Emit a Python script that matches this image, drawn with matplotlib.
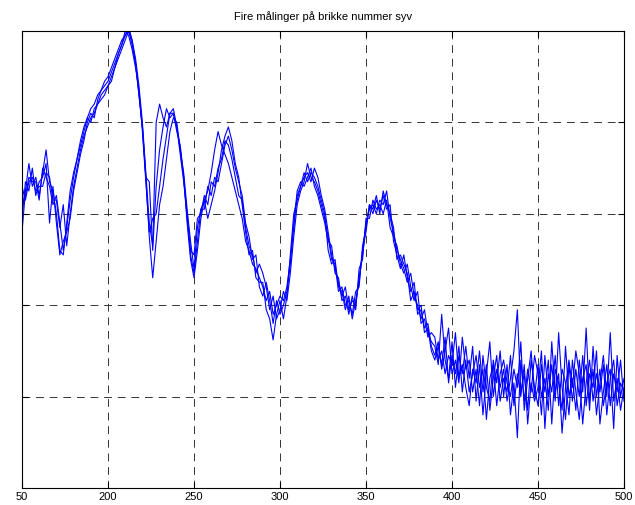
import numpy as np
import matplotlib
matplotlib.use("Agg")
import matplotlib.pyplot as plt

# wavelength axis, every 2 units from 150 to 500
x = np.arange(150, 501, 2)

maaling_a = [
    2.80, 3.25, 3.55, 3.30, 3.40, 3.20, 3.45, 3.70, 3.35, 3.25,
    3.00, 2.60, 2.55, 2.90, 3.25, 3.45, 3.60, 3.80, 3.95, 4.05,
    4.15, 4.20, 4.30, 4.35, 4.45, 4.50, 4.60, 4.70, 4.80, 4.90,
    4.95, 5.05, 4.90, 4.70, 4.40, 4.00, 3.45, 2.90, 2.65, 4.00,
    4.20, 4.05, 3.95, 4.10, 4.10, 3.95, 3.70, 3.45, 3.05, 2.70,
    2.40, 2.85, 3.05, 3.15, 3.25, 3.45, 3.70, 3.90, 3.75, 3.65,
    3.55, 3.40, 3.25, 3.10, 2.95, 2.70, 2.60, 2.45, 2.40, 2.30,
    2.20, 2.05, 2.15, 1.90, 2.00, 2.10, 2.05, 2.20, 2.50, 2.85,
    3.20, 3.30, 3.40, 3.45, 3.35, 3.50, 3.40, 3.20, 3.05, 2.80,
    2.55, 2.40, 2.25, 2.10, 2.20, 1.95, 2.05, 2.00, 2.30, 2.55,
    2.90, 3.05, 3.10, 3.00, 3.15, 3.10, 3.25, 2.95, 2.80, 2.60,
    2.50, 2.40, 2.25, 2.35, 2.10, 2.00, 1.85, 1.95, 1.70, 1.60,
    1.55, 1.35, 1.90, 1.40, 1.20, 1.60, 1.10, 1.45, 1.25, 1.55,
    1.20, 1.55, 0.95, 1.35, 0.80, 1.25, 1.60, 1.00, 1.30, 1.10,
    1.30, 0.95, 1.20, 1.50, 1.95, 1.05, 1.25, 0.85, 1.40, 1.10,
    0.90, 1.35, 1.05, 1.40, 0.70, 1.30, 1.15, 0.85, 1.55, 1.00,
    1.20, 0.85, 1.40, 1.05, 1.75, 0.95, 1.30, 0.80, 1.15, 1.45,
    1.00, 1.70, 0.95, 1.20, 0.85, 1.10,
]
maaling_b = [
    3.30, 3.15, 3.35, 3.40, 3.25, 3.30, 3.30, 3.45, 3.40, 3.15,
    3.15, 2.85, 3.10, 2.65, 3.00, 3.30, 3.50, 3.70, 3.85, 3.95,
    4.05, 4.10, 4.20, 4.25, 4.30, 4.40, 4.50, 4.60, 4.70, 4.80,
    4.90, 5.00, 4.85, 4.65, 4.30, 3.95, 3.40, 3.35, 2.60, 3.30,
    3.70, 3.95, 4.15, 4.05, 4.10, 3.90, 3.75, 3.40, 2.95, 2.60,
    2.55, 2.95, 3.00, 3.20, 3.10, 3.35, 3.30, 3.50, 3.60, 3.80,
    3.75, 3.60, 3.40, 3.20, 3.15, 2.85, 2.65, 2.55, 2.35, 2.45,
    2.35, 2.20, 1.95, 2.10, 1.85, 1.95, 2.15, 2.05, 2.35, 2.75,
    3.10, 3.25, 3.35, 3.55, 3.40, 3.35, 3.25, 3.10, 2.95, 2.75,
    2.50, 2.45, 2.15, 2.20, 2.00, 2.05, 1.90, 2.15, 2.20, 2.65,
    2.85, 3.10, 3.00, 3.15, 3.05, 3.20, 3.05, 3.10, 2.70, 2.55,
    2.40, 2.55, 2.30, 2.15, 2.25, 1.90, 1.95, 1.75, 1.80, 1.55,
    1.45, 1.60, 1.30, 1.50, 1.75, 1.25, 1.40, 1.15, 1.65, 1.30,
    1.40, 1.05, 1.30, 0.90, 1.45, 1.10, 0.95, 1.40, 1.15, 1.50,
    1.00, 1.35, 0.80, 1.15, 0.55, 1.40, 0.95, 1.30, 1.05, 1.45,
    1.25, 0.80, 1.45, 1.00, 1.35, 0.95, 1.70, 1.10, 0.75, 1.35,
    0.95, 1.30, 1.00, 1.45, 0.90, 1.25, 1.10, 1.50, 0.70, 1.05,
    1.35, 0.90, 1.25, 1.05, 1.40, 0.95,
]
maaling_c = [
    2.95, 3.35, 3.25, 3.50, 3.20, 3.35, 3.40, 3.55, 2.90, 3.30,
    2.90, 2.55, 2.70, 2.80, 2.95, 3.25, 3.45, 3.65, 3.80, 4.00,
    4.10, 4.05, 4.25, 4.35, 4.40, 4.45, 4.55, 4.65, 4.75, 4.85,
    5.00, 4.95, 4.80, 4.60, 4.35, 3.90, 3.35, 2.80, 2.95, 3.00,
    3.30, 3.60, 3.85, 4.10, 4.15, 3.95, 3.65, 3.35, 3.00, 2.55,
    2.35, 2.70, 3.05, 3.05, 3.30, 3.20, 3.40, 3.35, 3.55, 3.75,
    3.85, 3.70, 3.50, 3.35, 3.20, 2.90, 2.75, 2.50, 2.55, 2.20,
    2.10, 2.25, 2.05, 1.80, 2.05, 1.90, 2.00, 2.15, 2.45, 2.90,
    3.25, 3.35, 3.30, 3.40, 3.50, 3.30, 3.20, 3.05, 2.90, 2.70,
    2.65, 2.35, 2.30, 2.05, 2.10, 1.90, 2.10, 1.95, 2.40, 2.50,
    2.95, 2.95, 3.15, 3.05, 3.10, 3.00, 3.15, 2.85, 2.75, 2.65,
    2.45, 2.35, 2.45, 2.20, 2.05, 2.15, 1.80, 1.85, 1.65, 1.70,
    1.65, 1.40, 1.50, 1.25, 1.45, 1.35, 1.70, 1.20, 1.35, 1.10,
    0.90, 1.30, 1.15, 1.50, 1.05, 1.35, 0.85, 1.20, 1.45, 0.95,
    1.20, 1.05, 1.45, 0.90, 1.25, 1.00, 1.35, 0.70, 1.15, 0.95,
    1.10, 1.50, 0.65, 1.25, 1.05, 1.45, 0.90, 1.30, 1.15, 0.80,
    1.40, 1.05, 0.75, 1.20, 1.35, 0.85, 1.55, 1.00, 1.30, 0.90,
    1.15, 1.30, 0.65, 1.45, 1.00, 1.20,
]
maaling_d = [
    3.10, 3.20, 3.40, 3.35, 3.35, 3.15, 3.50, 3.40, 3.30, 3.10,
    3.20, 2.90, 2.60, 2.85, 3.15, 3.40, 3.60, 3.75, 3.90, 4.05,
    4.00, 4.15, 4.20, 4.30, 4.35, 4.40, 4.45, 4.60, 4.75, 4.85,
    4.95, 5.00, 4.90, 4.65, 4.30, 3.95, 3.40, 2.75, 2.30, 2.70,
    3.10, 3.30, 3.60, 3.90, 4.05, 4.00, 3.70, 3.40, 2.90, 2.50,
    2.30, 2.60, 2.95, 3.15, 2.95, 3.10, 3.25, 3.45, 3.70, 3.85,
    3.95, 3.80, 3.55, 3.40, 3.10, 2.80, 2.55, 2.60, 2.30, 2.25,
    2.25, 1.95, 1.85, 1.62, 1.90, 2.05, 1.85, 2.10, 2.55, 3.00,
    3.15, 3.30, 3.45, 3.35, 3.45, 3.40, 3.30, 3.15, 3.00, 2.60,
    2.45, 2.50, 2.20, 2.15, 1.95, 2.10, 1.85, 2.05, 2.25, 2.60,
    2.80, 3.10, 3.05, 3.20, 3.00, 3.25, 3.10, 3.00, 2.85, 2.50,
    2.55, 2.45, 2.35, 2.05, 2.15, 1.95, 2.00, 1.70, 1.75, 1.50,
    1.40, 1.55, 1.35, 1.65, 1.15, 1.45, 1.25, 1.55, 1.05, 1.40,
    1.05, 1.25, 1.45, 1.10, 1.30, 0.75, 1.20, 1.35, 0.90, 1.25,
    1.40, 1.15, 1.00, 1.30, 1.10, 1.60, 0.85, 1.20, 1.50, 1.00,
    1.35, 1.00, 1.20, 0.85, 1.60, 1.05, 1.25, 0.60, 1.10, 1.40,
    1.10, 1.50, 1.25, 0.70, 1.15, 1.40, 0.95, 1.25, 1.05, 1.35,
    0.80, 1.20, 1.40, 0.90, 1.15, 1.05,
]

xticks = [150, 200, 250, 300, 350, 400, 450, 500]
xtick_labels = ['50', '200', '250', '300', '350', '400', '450', '500']
yticks = [1, 2, 3, 4]

plt.rcParams['font.family'] = ['Liberation Sans', 'DejaVu Sans']

fig = plt.figure(figsize=(6.35, 5.05), dpi=100)
ax = fig.add_axes([22 / 635, 17 / 505, 602 / 635, 457 / 505])

for serie in [maaling_a, maaling_b, maaling_c, maaling_d]:
    ax.plot(x, serie, color='#0000ff', linewidth=0.8)

ax.set_xlim(150, 500)
ax.set_ylim(0, 5)
ax.set_xticks(xticks)
ax.set_xticklabels(xtick_labels, fontsize=8)
ax.set_yticks(yticks)
ax.set_yticklabels([])
ax.tick_params(direction='in', length=4, width=0.8, top=True, right=True, pad=3)
ax.grid(True, color='#333333', linestyle=(0, (8, 6)), linewidth=0.7)
for side in ax.spines.values():
    side.set_linewidth(0.8)

ax.set_title('Fire målinger på brikke nummer syv', fontsize=8, pad=8)

fig.savefig('out.png', dpi=100)
